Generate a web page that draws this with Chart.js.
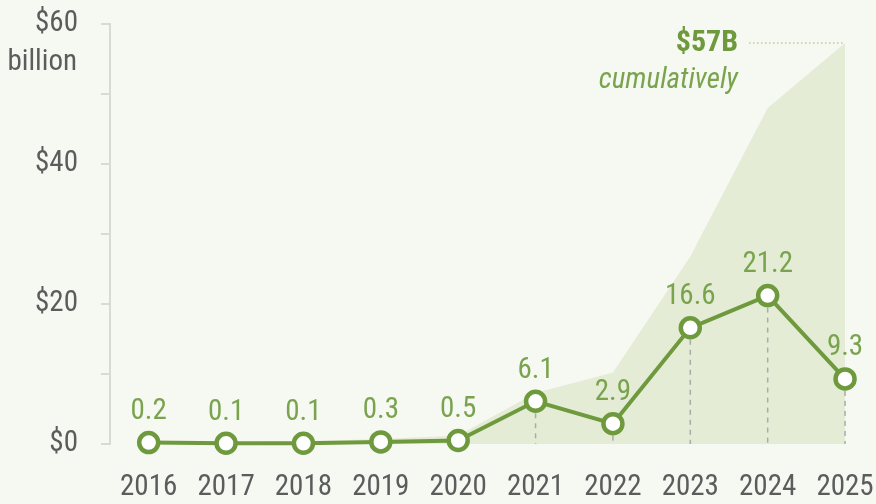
<!DOCTYPE html>
<html>
<head>
<meta charset="utf-8">
<script src="https://cdn.jsdelivr.net/npm/chart.js@4.4.1/dist/chart.umd.min.js"></script>
<style>
  html, body { margin: 0; padding: 0; background: #f6f8f2; }
  #wrap { width: 876px; height: 504px; }
</style>
</head>
<body>
<div id="wrap"><canvas id="myChart" width="876" height="504"></canvas></div>
<script>
var years = [2016, 2017, 2018, 2019, 2020, 2021, 2022, 2023, 2024, 2025];
var annualValues = [0.2, 0.1, 0.1, 0.3, 0.5, 6.1, 2.9, 16.6, 21.2, 9.3];
var cumulativeValues = [0.2, 0.3, 0.4, 0.7, 1.2, 7.3, 10.2, 26.8, 48.0, 57.3];
var yLabelValues = [0, 20, 40, 60];
var dropLineFrom = 2021;
var totalLabel = '$57B';
var totalNote = 'cumulatively';
var unitLabel = 'billion';

var FONT = '"Roboto Condensed", Roboto, sans-serif';
var green = '#6e9a3d';
var labelGreen = '#7aa34e';
var gray = '#5c5c5c';
var axisGray = '#d9dad6';

function points(values) {
    return years.map(function (y, i) { return { x: y, y: values[i] }; });
}

// value labels above each point of the annual line
var valueLabels = {
    id: 'valueLabels',
    afterDatasetsDraw: function (chart) {
        var ctx = chart.ctx;
        var meta = chart.getDatasetMeta(0);
        ctx.save();
        ctx.font = '29px ' + FONT;
        ctx.fillStyle = labelGreen;
        ctx.textAlign = 'center';
        ctx.textBaseline = 'middle';
        meta.data.forEach(function (pt, i) {
            ctx.fillText(annualValues[i].toFixed(1), pt.x, pt.y - 31);
        });
        ctx.restore();
    }
};

// dashed drops from the later points down to zero, on top of the area fill
var dropLines = {
    id: 'dropLines',
    afterDatasetDraw: function (chart, args) {
        if (args.index !== 1) return;
        var ctx = chart.ctx;
        var meta = chart.getDatasetMeta(0);
        var y0 = chart.scales.y.getPixelForValue(0);
        ctx.save();
        ctx.strokeStyle = '#a9aba6';
        ctx.lineWidth = 1.5;
        ctx.setLineDash([5, 5]);
        meta.data.forEach(function (pt, i) {
            if (years[i] < dropLineFrom) return;
            ctx.beginPath();
            ctx.moveTo(pt.x, pt.y + 12);
            ctx.lineTo(pt.x, y0);
            ctx.stroke();
        });
        ctx.restore();
    }
};

// total callout next to the top of the cumulative area, plus the unit under $60
var callouts = {
    id: 'callouts',
    afterDraw: function (chart) {
        var ctx = chart.ctx;
        var meta = chart.getDatasetMeta(1);
        var last = meta.data[meta.data.length - 1];
        ctx.save();
        ctx.strokeStyle = '#b9cf9c';
        ctx.lineWidth = 1.5;
        ctx.setLineDash([1.5, 2.5]);
        ctx.beginPath();
        ctx.moveTo(last.x - 96, last.y);
        ctx.lineTo(last.x, last.y);
        ctx.stroke();
        ctx.setLineDash([]);

        ctx.textAlign = 'right';
        ctx.textBaseline = 'middle';
        ctx.fillStyle = green;
        ctx.font = 'bold 30px ' + FONT;
        ctx.fillText(totalLabel, last.x - 107, last.y + 1);
        ctx.fillStyle = labelGreen;
        ctx.font = 'italic 29px ' + FONT;
        ctx.fillText(totalNote, last.x - 107, last.y + 38);

        var ys = chart.scales.y;
        ctx.fillStyle = gray;
        ctx.font = '29px ' + FONT;
        ctx.fillText(unitLabel, ys.right - 33, ys.getPixelForValue(60) + 39);
        ctx.restore();
    }
};

new Chart('myChart', {
    type: 'line',
    data: {
        datasets: [{
            label: 'Annual',
            data: points(annualValues),
            borderColor: green,
            borderWidth: 4,
            pointRadius: 9.5,
            pointBorderWidth: 4.5,
            pointBorderColor: green,
            pointBackgroundColor: '#ffffff',
            fill: false,
            tension: 0,
            clip: false
        }, {
            label: 'Cumulative',
            data: points(cumulativeValues),
            borderWidth: 0,
            backgroundColor: '#e4ecd6',
            pointRadius: 0,
            fill: 'origin',
            tension: 0
        }]
    },
    options: {
        responsive: false,
        animation: false,
        layout: {
            autoPadding: false,
            padding: { top: 24, right: 0, bottom: 0, left: 0 }
        },
        plugins: {
            legend: { display: false },
            tooltip: { enabled: false }
        },
        scales: {
            x: {
                type: 'linear',
                bounds: 'data',
                min: 2015.5,
                max: 2025.4,
                afterBuildTicks: function (scale) {
                    scale.ticks = years.map(function (v) { return { value: v }; });
                },
                afterFit: function (scale) {
                    scale.height = 60;
                    scale.paddingLeft = 0;
                    scale.paddingRight = 0;
                },
                grid: { display: false, drawTicks: false },
                border: { display: false },
                ticks: {
                    padding: 26,
                    color: gray,
                    font: { family: FONT, size: 29 },
                    maxRotation: 0,
                    autoSkip: false,
                    callback: function (v) { return String(v); }
                }
            },
            y: {
                min: 0,
                max: 60,
                afterFit: function (scale) {
                    scale.width = 110;
                    scale.paddingTop = 0;
                    scale.paddingBottom = 0;
                },
                grid: {
                    drawOnChartArea: false,
                    drawTicks: true,
                    tickLength: 9,
                    color: axisGray,
                    lineWidth: 2
                },
                border: { display: true, color: axisGray, width: 2 },
                ticks: {
                    stepSize: 10,
                    padding: 23,
                    color: gray,
                    font: { family: FONT, size: 29 },
                    callback: function (v) {
                        return yLabelValues.indexOf(v) >= 0 ? '$' + v : '';
                    }
                }
            }
        }
    },
    plugins: [valueLabels, dropLines, callouts]
});
</script>
</body>
</html>
